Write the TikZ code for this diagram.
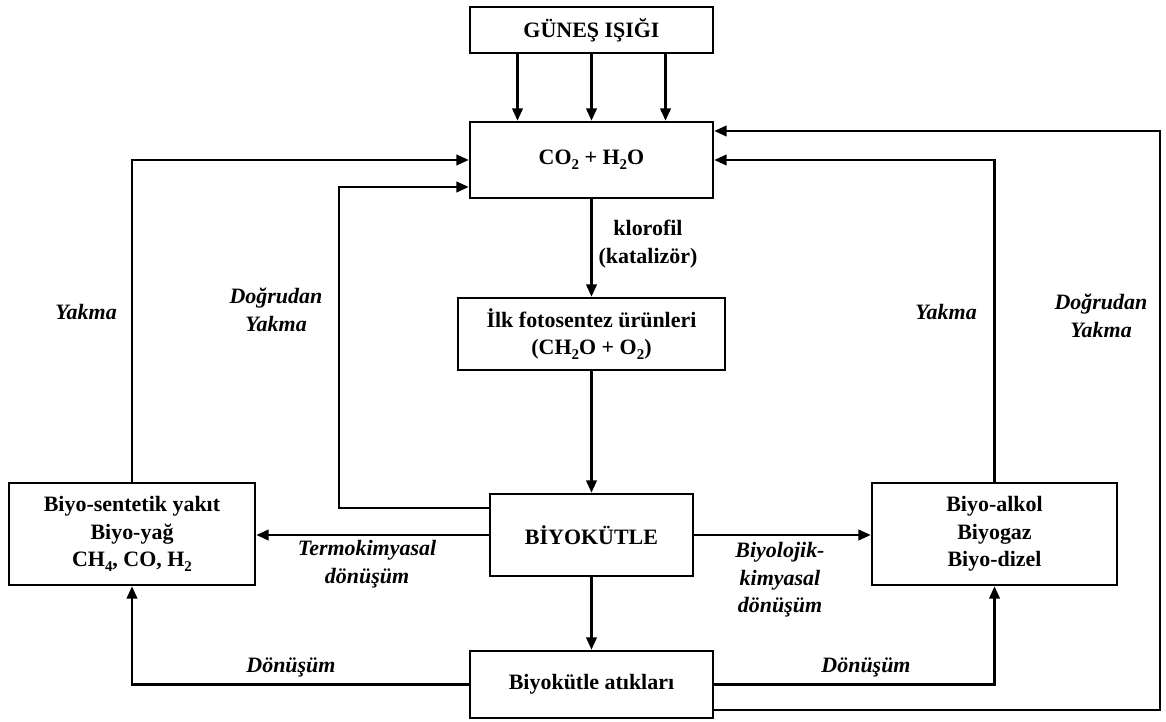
\documentclass[tikz,border=0pt]{standalone}
\usepackage{fontspec}
\setmainfont{Liberation Serif}
\usetikzlibrary{arrows.meta,calc,positioning}
\def\xYL{133}   % left Yakma riser
\def\xDL{339}   % left Dogrudan riser
\def\xDR{1160}  % right Dogrudan riser
\def\yDR{131}
\def\yDL{187}
\newcommand\chsub[1]{\raisebox{-0.45ex}{\fontsize{8.5}{8}\selectfont#1}}

\begin{document}
\begin{tikzpicture}[x=0.02cm, y=-0.02cm, line join=miter,
                    >={Triangle[length=7pt,width=6pt]},
                    font=\bfseries\fontsize{12.5}{15.6}\selectfont,
                    box/.style={draw, line width=1.5pt, align=center,
                                inner sep=0pt},
                    lbl/.style={font=\bfseries\itshape\fontsize{12.5}{15.6}\selectfont,
                                align=center, inner sep=1pt},
                    conn/.style={->, line width=1.25pt}]
\useasboundingbox (0,0) rectangle (1166,722);

% =================== boxes ===================
\node[box, minimum width=4.86cm, minimum height=0.92cm] (sun) at (591.5,30)
  {GÜNEŞ IŞIĞI};
\node[box, minimum width=4.86cm, minimum height=1.52cm] (co2) at (591.5,160)
  {CO\chsub{2} + H\chsub{2}O};
\node[box, minimum width=5.34cm, minimum height=1.44cm] (ilk) at (591.5,334)
  {İlk fotosentez ürünleri\\(CH\chsub{2}O + O\chsub{2})};
\node[box, minimum width=4.06cm, minimum height=1.64cm] (biyo) at (591.5,535)
  {BİYOKÜTLE};
\node[box, minimum width=4.92cm, minimum height=2.04cm] (sent) at (132,534)
  {Biyo-sentetik yakıt\\Biyo-yağ\\CH\chsub{4}, CO, H\chsub{2}};
\node[box, minimum width=4.9cm, minimum height=2.04cm] (alkol) at (994.5,534)
  {Biyo-alkol\\Biyogaz\\Biyo-dizel};
\node[box, minimum width=4.86cm, minimum height=1.34cm] (atik) at (591.5,684.5)
  {Biyokütle atıkları};

% =================== main chain ===================
\foreach \dx in {-74,0,74}
  \draw[conn] ($(sun.south)+(\dx,0)$) -- ($(co2.north)+(\dx,0)$);
\draw[conn] (co2) -- (ilk);
\draw[conn] (ilk) -- (biyo);
\draw[conn] (biyo) -- (atik);
\draw[conn] (biyo.west) -- (biyo.west -| sent.east);
\draw[conn] (biyo.east) -- (biyo.east -| alkol.west);

% =================== return paths ===================
\coordinate (dl) at (\xDL,\yDL);
\coordinate (dr) at (\xDR,\yDR);
\draw[conn] (sent.north) |- (co2.west);
\draw[conn] ($(biyo.north west)+(0,15)$) -| (dl) -- (dl -| co2.west);
\draw[conn] (alkol.north) |- (co2.east);
\draw[conn] ($(atik.south east)+(0,-9)$) -| (dr) -- (dr -| co2.east);
\draw[conn] (atik.west) -| (sent.south);
\draw[conn] (atik.east) -| (alkol.south);

% =================== labels ===================
\node[align=center] (klor) at (648,244) {klorofil\\(katalizör)};
\node[lbl] (yakL) at (86,312) {Yakma};
\node[lbl] (dogL) at (276,310) {Doğrudan\\Yakma};
\node[lbl] (yakR) at (946,312) {Yakma};
\node[lbl] (dogR) at (1101,316) {Doğrudan\\Yakma};
\node[lbl] (termo) at (367,564) {Termokimyasal\\dönüşüm};
\node[lbl] (biyol) at (780,580) {Biyolojik-\\kimyasal\\dönüşüm};
\node[lbl] (donL) at (291,667) {Dönüşüm};
\node[lbl] (donR) at (866,667) {Dönüşüm};

\end{tikzpicture}
\end{document}
